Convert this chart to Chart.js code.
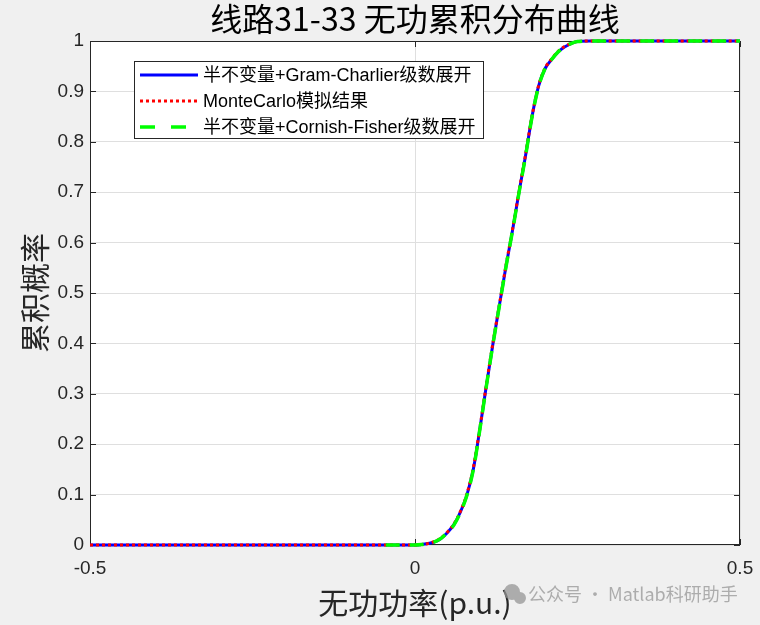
<!DOCTYPE html>
<html>
<head>
<meta charset="utf-8">
<script src="https://cdn.jsdelivr.net/npm/chart.js@4/dist/chart.umd.min.js"></script>
<style>
  body { margin: 0; background: #f0f0f0; }
  #wrap { width: 760px; height: 625px; }
</style>
</head>
<body>
<div id="wrap"><canvas id="cdf-chart" width="760" height="625"></canvas></div>
<script>
// x positions (p.u.) and cumulative probability
const xGC = [-0.5, -0.3, -0.1, 0, 0.01, 0.02, 0.03, 0.04, 0.05, 0.06, 0.07, 0.08, 0.09, 0.10, 0.11, 0.12, 0.13, 0.14, 0.15, 0.16, 0.17, 0.18, 0.19, 0.20, 0.21, 0.22, 0.23, 0.24, 0.25, 0.27, 0.30, 0.40, 0.50];
const yGC = [0, 0, 0, 0.000, 0.001, 0.003, 0.006, 0.013, 0.025, 0.041, 0.066, 0.100, 0.152, 0.232, 0.318, 0.400, 0.477, 0.553, 0.624, 0.700, 0.772, 0.850, 0.910, 0.945, 0.963, 0.978, 0.988, 0.995, 0.999, 1, 1, 1, 1];

const xMC = [-0.5, -0.3, -0.1, 0, 0.01, 0.02, 0.03, 0.04, 0.05, 0.06, 0.07, 0.08, 0.09, 0.10, 0.11, 0.12, 0.13, 0.14, 0.15, 0.16, 0.17, 0.18, 0.19, 0.20, 0.21, 0.22, 0.23, 0.24, 0.25, 0.27, 0.30, 0.40, 0.50];
const yMC = [0, 0, 0, 0.000, 0.001, 0.003, 0.007, 0.014, 0.026, 0.042, 0.067, 0.102, 0.155, 0.234, 0.320, 0.402, 0.478, 0.555, 0.626, 0.702, 0.774, 0.851, 0.911, 0.946, 0.964, 0.979, 0.989, 0.995, 0.999, 1, 1, 1, 1];

const xCF = [-0.045, 0, 0.01, 0.02, 0.03, 0.04, 0.05, 0.06, 0.07, 0.08, 0.09, 0.10, 0.11, 0.12, 0.13, 0.14, 0.15, 0.16, 0.17, 0.18, 0.19, 0.20, 0.21, 0.22, 0.23, 0.24, 0.25, 0.27, 0.30, 0.40, 0.50];
const yCF = [0, 0.000, 0.001, 0.003, 0.006, 0.013, 0.025, 0.040, 0.065, 0.099, 0.151, 0.231, 0.317, 0.399, 0.476, 0.552, 0.623, 0.699, 0.771, 0.849, 0.909, 0.945, 0.963, 0.978, 0.988, 0.995, 0.999, 1, 1, 1, 1];

const seriesLabels = ['半不变量+Gram-Charlier级数展开', 'MonteCarlo模拟结果', '半不变量+Cornish-Fisher级数展开'];
const xTicks = [-0.5, 0, 0.5];
const xTickLabels = ['-0.5', '0', '0.5'];
const yTicks = [0, 0.1, 0.2, 0.3, 0.4, 0.5, 0.6, 0.7, 0.8, 0.9, 1];
const yTickLabels = ['0', '0.1', '0.2', '0.3', '0.4', '0.5', '0.6', '0.7', '0.8', '0.9', '1'];

const toPoints = (xs, ys) => xs.map((x, i) => ({ x: x, y: ys[i] }));

// grey figure background, white axes, box and inner ticks under the curves
const axesBoxPlugin = {
    id: 'axesBox',
    beforeDraw(chart) {
        const { ctx, chartArea: a } = chart;
        ctx.save();
        ctx.fillStyle = '#f0f0f0';
        ctx.fillRect(0, 0, chart.width, chart.height);
        ctx.fillStyle = '#ffffff';
        ctx.fillRect(a.left, a.top, a.right - a.left, a.bottom - a.top);
        ctx.restore();
    },
    beforeDatasetsDraw(chart) {
        const { ctx, chartArea: a } = chart;
        const xs = chart.scales.x, ys = chart.scales.y;
        ctx.save();
        ctx.strokeStyle = '#262626';
        ctx.lineWidth = 1;
        ctx.strokeRect(a.left + 0.5, a.top + 0.5, a.right - a.left - 1, a.bottom - a.top - 1);
        ctx.beginPath();
        xTicks.forEach(v => {
            const px = Math.round(xs.getPixelForValue(v)) + 0.5;
            ctx.moveTo(px, a.bottom); ctx.lineTo(px, a.bottom - 6);
            ctx.moveTo(px, a.top); ctx.lineTo(px, a.top + 6);
        });
        yTicks.forEach(v => {
            const py = Math.round(ys.getPixelForValue(v)) + 0.5;
            ctx.moveTo(a.left, py); ctx.lineTo(a.left + 6, py);
            ctx.moveTo(a.right, py); ctx.lineTo(a.right - 6, py);
        });
        ctx.stroke();
        ctx.restore();
    }
};

// legend box and watermark
const legendPlugin = {
    id: 'boxLegend',
    afterDraw(chart) {
        const { ctx } = chart;
        ctx.save();
        const lx = 134, ly = 61, lw = 349, lh = 77;
        ctx.fillStyle = '#ffffff';
        ctx.fillRect(lx, ly, lw, lh);
        ctx.strokeStyle = '#262626';
        ctx.lineWidth = 1;
        ctx.strokeRect(lx + 0.5, ly + 0.5, lw, lh);
        ctx.font = '18px "Liberation Sans", "Noto Sans CJK SC", sans-serif';
        ctx.textBaseline = 'middle';
        chart.data.datasets.forEach((ds, i) => {
            const rowY = ly + 14 + i * 26;
            ctx.save();
            ctx.strokeStyle = ds.borderColor;
            ctx.lineWidth = ds.borderWidth;
            ctx.setLineDash(ds.legendDash);
            ctx.beginPath();
            ctx.moveTo(140, rowY);
            ctx.lineTo(198, rowY);
            ctx.stroke();
            ctx.restore();
            ctx.fillStyle = '#000000';
            ctx.fillText(ds.label, 203, rowY + 1);
        });

        ctx.font = '18px "Noto Sans CJK SC", sans-serif';
        ctx.fillStyle = 'rgba(150,150,150,0.75)';
        ctx.fillText('公众号 · Matlab科研助手', 528, 594);
        ctx.beginPath();
        ctx.arc(512, 592, 8, 0, Math.PI * 2);
        ctx.arc(520, 598, 6, 0, Math.PI * 2);
        ctx.fill();
        ctx.restore();
    }
};

const tickFont = { family: '"Liberation Sans", Arial, sans-serif', size: 19 };

new Chart(document.getElementById('cdf-chart'), {
    type: 'line',
    data: {
        datasets: [{
            label: seriesLabels[0],
            data: toPoints(xGC, yGC),
            borderColor: '#0000ff',
            borderWidth: 3,
            legendDash: [],
            clip: false,
            order: 3
        }, {
            label: seriesLabels[1],
            data: toPoints(xMC, yMC),
            borderColor: '#ff0000',
            borderWidth: 3,
            borderDash: [3, 3],
            legendDash: [3, 3],
            clip: false,
            order: 2
        }, {
            label: seriesLabels[2],
            data: toPoints(xCF, yCF),
            borderColor: '#00ff00',
            borderWidth: 3.5,
            borderDash: [14, 10],
            legendDash: [15, 16],
            clip: false,
            order: 1
        }]
    },
    options: {
        responsive: false,
        animation: false,
        parsing: false,
        elements: {
            point: { radius: 0 },
            line: { cubicInterpolationMode: 'monotone', fill: false }
        },
        layout: { padding: { left: 0, right: 20, top: 0, bottom: 0 } },
        plugins: {
            legend: { display: false },
            tooltip: { enabled: false },
            title: {
                display: true,
                fullSize: false,
                text: '线路31-33 无功累积分布曲线',
                color: '#000000',
                font: { family: '"Noto Sans CJK SC", sans-serif', size: 32, weight: 'normal', lineHeight: 1.1 },
                padding: { top: 1, bottom: 4.8 }
            }
        },
        scales: {
            x: {
                type: 'linear',
                min: -0.5,
                max: 0.5,
                afterBuildTicks: scale => { scale.ticks = xTicks.map(v => ({ value: v })); },
                afterFit: scale => {
                    scale.height = 80;
                    scale.paddingLeft = 0;
                    scale.paddingRight = 0;
                },
                ticks: {
                    color: '#262626',
                    font: tickFont,
                    padding: 12,
                    maxRotation: 0,
                    callback: value => xTickLabels[xTicks.indexOf(value)]
                },
                grid: { color: '#dfdfdf', drawTicks: false },
                border: { display: false },
                title: {
                    display: true,
                    text: '无功功率(p.u.)',
                    color: '#262626',
                    font: { family: '"Noto Sans CJK SC", sans-serif', size: 30, lineHeight: 1.2 },
                    padding: { top: 0, bottom: 4 }
                }
            },
            y: {
                min: 0,
                max: 1,
                afterBuildTicks: scale => { scale.ticks = yTicks.map(v => ({ value: v })); },
                afterFit: scale => { scale.width = 90; },
                ticks: {
                    color: '#262626',
                    font: tickFont,
                    padding: 6,
                    callback: value => yTickLabels[yTicks.indexOf(value)]
                },
                grid: { color: '#dfdfdf', drawTicks: false },
                border: { display: false },
                title: {
                    display: true,
                    text: '累积概率',
                    color: '#262626',
                    font: { family: '"Noto Sans CJK SC", sans-serif', size: 30, lineHeight: 1.2 },
                    padding: { top: 17, bottom: 0 }
                }
            }
        }
    },
    plugins: [axesBoxPlugin, legendPlugin]
});
</script>
</body>
</html>
